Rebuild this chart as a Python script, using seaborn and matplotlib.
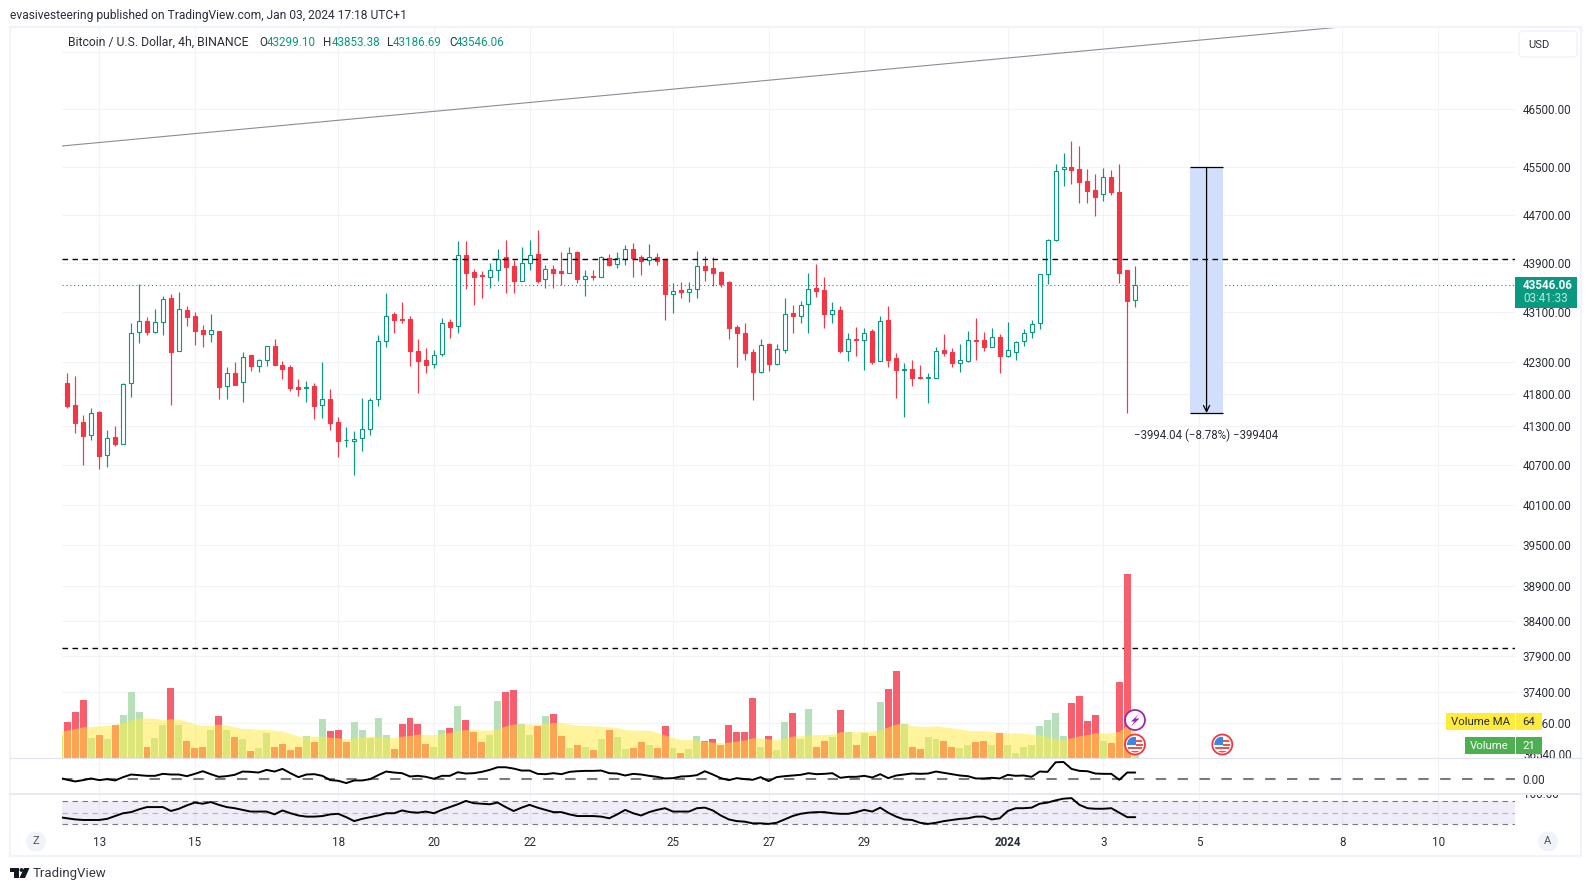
import numpy as np
import pandas as pd
import matplotlib.pyplot as plt
import seaborn as sns
from matplotlib.patches import Circle, FancyBboxPatch, Polygon, Rectangle
from matplotlib.ticker import NullLocator
from matplotlib.transforms import Bbox, TransformedBbox

opens = [41977, 41633, 41368, 41165, 41524, 40860, 41140, 41025, 41972, 42780,
         42960, 42790, 42940, 43335, 42475, 43140, 43040, 42820, 42750, 42800,
         41925, 42133, 41985, 42417, 42248, 42340, 42560, 42258, 42227, 41915,
         41890, 41930, 41628, 41727, 41368, 41085, 41080, 41115, 41265, 41717,
         42635, 43075, 42995, 42995, 42480, 42335, 42270, 42440, 42945, 42875,
         44040, 43760, 43710, 43665, 43780, 44005, 43855, 43615, 43900, 44055,
         43635, 43807, 43775, 43730, 44085, 43635, 43695, 43665, 43990, 43880,
         43970, 44135, 44005, 43945, 44005, 43970, 43390, 43465, 43435, 43470,
         43855, 43825, 43760, 43595, 42865, 42770, 42465, 42155, 42595, 42280,
         42490, 43090, 43035, 43235, 43500, 43465, 43080, 43140, 42485, 42675,
         42650, 42800, 42325, 42980, 42370, 42185, 42195, 42070, 42060, 42060,
         42500, 42465, 42295, 42325, 42660, 42660, 42550, 42710, 42405, 42470,
         42635, 42780, 42925, 43720, 44285, 45465, 45515, 45470, 45270, 45120,
         45045, 45340, 45075, 43790, 43299.10]
closes = [41623, 41357, 41145, 41503, 40840, 41120, 41025, 41956, 42765, 42955,
          42790, 42940, 43310, 42470, 43150, 43030, 42805, 42745, 42810, 41905,
          42130, 41945, 42380, 42248, 42330, 42555, 42258, 42195, 41900, 41883,
          41915, 41618, 41722, 41352, 41080, 41095, 41110, 41255, 41706, 42635,
          43035, 42975, 42975, 42480, 42320, 42258, 42410, 42925, 42865, 44030,
          43740, 43675, 43695, 43785, 43965, 43840, 43610, 43900, 44030, 43610,
          43800, 43740, 43740, 44065, 43645, 43687, 43675, 44000, 43873, 43985,
          44130, 43990, 43940, 44000, 43940, 43400, 43445, 43430, 43475, 43850,
          43790, 43740, 43563, 42850, 42770, 42450, 42150, 42570, 42275, 42510,
          43070, 43040, 43215, 43475, 43450, 43075, 43130, 42480, 42670, 42660,
          42765, 42305, 42955, 42335, 42180, 42195, 42055, 42055, 42070, 42475,
          42450, 42285, 42330, 42655, 42645, 42545, 42700, 42400, 42495, 42625,
          42765, 42905, 43720, 44285, 45435, 45500, 45455, 45255, 45105, 45005,
          45335, 45075, 43740, 43290, 43546.06]
highs = [42130, 42086, 41477, 41586, 41540, 41245, 41305, 41972, 42930, 43563,
         43020, 43155, 43365, 43400, 43430, 43205, 43105, 42900, 43075, 42800,
         42225, 42305, 42465, 42417, 42355, 42555, 42670, 42320, 42258, 42040,
         42008, 41977, 42305, 41883, 41446, 41290, 41230, 41743, 41743, 42730,
         43415, 43105, 43270, 43040, 42665, 42530, 42497, 43010, 42995, 44270,
         44270, 43807, 43775, 43905, 44135, 44285, 43955, 44170, 44285, 44450,
         43873, 43873, 44085, 44170, 44105, 43790, 43790, 44020, 44055, 44085,
         44205, 44235, 44040, 44220, 44070, 43970, 43580, 43595, 43595, 44105,
         44020, 44005, 43775, 43610, 42900, 42930, 42515, 42665, 42610, 42595,
         43335, 43220, 43285, 43740, 43890, 43677, 43270, 43205, 42770, 42865,
         42850, 42835, 43040, 43205, 42450, 42290, 42335, 42260, 42135, 42545,
         42755, 42530, 42595, 42800, 43005, 42785, 42850, 42755, 42945, 42645,
         42835, 42975, 43720, 44300, 45555, 45745, 45945, 45860, 45470, 45390,
         45490, 45455, 45555, 43790, 43853.38]
lows = [41592, 41190, 40705, 41085, 40645, 40675, 40995, 41025, 41758, 42610,
        42735, 42770, 42735, 41633, 42475, 42880, 42575, 42545, 42625, 41727,
        41727, 41945, 41680, 42165, 42150, 42243, 42258, 42040, 41852, 41775,
        41680, 41415, 41430, 41245, 40825, 40975, 40555, 40915, 41170, 41618,
        42545, 42770, 42930, 42243, 41820, 42133, 42210, 42400, 42690, 42770,
        43480, 43220, 43335, 43500, 43610, 43415, 43415, 43615, 43790, 43580,
        43500, 43500, 43545, 43730, 43580, 43365, 43630, 43665, 43855, 43825,
        43873, 43675, 43710, 43873, 43873, 42975, 43090, 43335, 43270, 43335,
        43610, 43525, 43515, 42670, 42227, 42335, 41710, 42125, 42165, 42258,
        42450, 42770, 42930, 42770, 43350, 42850, 42930, 42450, 42320, 42400,
        42180, 42275, 42325, 42220, 41745, 41445, 41930, 42040, 41665, 42060,
        42400, 42220, 42150, 42310, 42335, 42480, 42540, 42135, 42390, 42335,
        42565, 42690, 42835, 43560, 44260, 45190, 45225, 44905, 44890, 44675,
        44940, 45025, 43580, 41500, 43186.69]

# these four start one bar earlier, that bar is cut off by the pane edge
volume = [42, 65, 85, 107, 36, 43, 34, 60, 78, 120, 84, 21, 36, 60, 129, 60, 31, 18, 21, 51, 76,
          51, 38, 34, 12, 18, 45, 21, 25, 14, 21, 40, 29, 71, 49, 51, 29, 65, 52, 36, 73,
          43, 16, 62, 74, 63, 25, 20, 51, 54, 95, 69, 47, 29, 43, 104, 120, 124, 63, 43, 58,
          76, 80, 41, 18, 23, 21, 14, 34, 51, 38, 16, 18, 29, 23, 18, 58, 18, 10, 16, 40,
          32, 34, 23, 60, 47, 47, 109, 21, 41, 14, 65, 82, 34, 89, 21, 32, 38, 87, 47, 23,
          45, 40, 102, 127, 160, 63, 20, 16, 38, 34, 32, 20, 18, 23, 29, 31, 23, 45, 23, 9,
          20, 23, 58, 69, 82, 40, 100, 113, 67, 78, 32, 27, 140, 336, 5]
volume_ma = [49, 51, 54, 57, 58, 59, 59, 62, 65, 70, 73, 73, 73, 70, 72, 71, 67, 62, 60, 60, 62,
             60, 57, 54, 54, 52, 52, 51, 49, 45, 40, 40, 40, 40, 38, 37, 35, 37, 39, 40, 40,
             38, 37, 40, 41, 44, 43, 43, 45, 47, 51, 52, 52, 51, 51, 54, 59, 62, 62, 62, 62,
             63, 65, 65, 62, 60, 59, 59, 58, 57, 56, 52, 51, 51, 51, 47, 42, 37, 34, 34, 33,
             31, 29, 28, 29, 31, 33, 37, 37, 35, 34, 37, 40, 41, 43, 43, 43, 44, 48, 48, 48,
             49, 49, 52, 57, 62, 63, 59, 58, 58, 59, 57, 55, 53, 51, 50, 50, 49, 47, 46, 46,
             45, 44, 42, 39, 35, 34, 37, 41, 43, 46, 46, 46, 49, 60, 64]
macd = [30, -30, -80, -40, 10, -40, -10, -50, 50, 130, 110, 90, 90, 150, 130, 130, 80, 150, 230, 140, 60,
        80, 120, 220, 210, 190, 270, 220, 300, 170, 50, 130, 140, 90, -40, -60, -130, -50, -50, -10, 110,
        220, 190, 170, 70, 90, 60, 0, 90, 90, 200, 160, 170, 210, 270, 350, 350, 310, 250, 250, 150,
        140, 170, 140, 210, 230, 240, 240, 250, 170, 160, 100, 150, 130, 90, 60, 10, 20, 70, 80, 110,
        230, 130, 20, -40, 20, -10, -30, 50, -70, 50, 80, 100, 120, 170, 140, 150, 170, 30, 60, 60,
        90, 40, 140, 20, 100, 130, 160, 150, 160, 220, 180, 140, 100, 80, 10, 10, 30, 10, 120, 90,
        100, 60, 220, 210, 500, 510, 300, 240, 230, 160, 150, 150, -30, 190, 190]
rsi = [42, 40, 38, 37, 37, 37, 39, 44, 49, 51, 56, 60, 60, 60, 53, 57, 63, 68, 66, 69, 64,
       60, 58, 55, 52, 52, 52, 47, 54, 49, 45, 43, 43, 44, 47, 48, 42, 35, 39, 42, 45,
       49, 49, 54, 51, 50, 52, 49, 55, 60, 65, 71, 67, 66, 65, 68, 60, 53, 59, 64, 59,
       55, 51, 51, 47, 44, 44, 44, 43, 40, 47, 55, 49, 45, 51, 55, 58, 52, 52, 52, 58,
       59, 54, 45, 38, 35, 34, 31, 31, 30, 32, 38, 44, 48, 50, 51, 51, 49, 48, 48, 51,
       55, 52, 59, 50, 43, 38, 37, 32, 30, 32, 35, 37, 39, 40, 43, 43, 38, 40, 53, 58,
       58, 59, 66, 68, 72, 75, 76, 64, 58, 57, 57, 58, 50, 42, 42]

level_high = 43965
level_low = 38017
last_price = 43546.06
trend_bars = [-0.66, 159.8]
trend_prices = [45866, 47953]
measure_bars = [140.9, 145]
measure_top = 45500
measure_bottom = 41506

price_ticks = [47500, 46500, 45500, 44700, 43900, 43100, 42300, 41800, 41300, 40700,
               40100, 39500, 38900, 38400, 37900, 37400, 36960]
date_ticks = [4, 16, 34, 46, 58, 76, 88, 100, 118, 130, 142, 160, 172]
date_labels = ['13', '15', '18', '20', '22', '25', '27', '29', '2024', '3', '5', '8', '10']

W, H = 1591, 891
GREEN = '#089981'
RED = '#f23645'
GRID = '#f2f3f6'
TEXT = '#2a2e39'
FONT = 'Roboto'
SIZE = 8.4

sns.set_style('white')
plt.rcParams['font.family'] = [FONT, 'DejaVu Sans']
plt.rcParams['font.size'] = SIZE

fig = plt.figure(figsize=(W / 100, H / 100), dpi=100, facecolor='white')


def pane(top, bottom):
    left, right = 62, 1515
    ax = fig.add_axes([left / W, 1 - bottom / H, (right - left) / W, (bottom - top) / H])
    ax.set_xlim(-0.665, 181.65)
    ax.set_xticks(date_ticks)
    ax.grid(axis='x', color=GRID, lw=0.8)
    ax.set_axisbelow(True)
    ax.tick_params(length=0, labelbottom=False, labelleft=False, labelright=True,
                   labelcolor=TEXT, pad=5.5, labelsize=SIZE)
    ax.yaxis.tick_right()
    sns.despine(ax=ax, left=True, bottom=True, right=True, top=True)
    return ax


# main pane
ax = pane(27, 758)
ax.set_yscale('log')
ax.set_ylim(36482, 47953)
ax.yaxis.set_minor_locator(NullLocator())
ax.set_yticks(price_ticks)
ax.set_yticklabels(['' if p == 47500 else '%.2f' % p for p in price_ticks])
ax.grid(axis='y', color=GRID, lw=0.8)

bars = np.arange(len(opens))
o, c = np.array(opens), np.array(closes)
up = c >= o
sides = [GREEN if u else RED for u in up]
ax.vlines(bars, lows, highs, colors=sides, lw=0.85, zorder=3)
ax.bar(bars, np.abs(c - o), bottom=np.minimum(o, c), width=0.5, color=['white' if u else RED for u in up],
       edgecolor=sides, lw=0.8, zorder=4)

ax.axhline(level_high, color='black', lw=1, dashes=(4, 3.2), zorder=5)
ax.axhline(level_low, color='black', lw=1, dashes=(4, 3.2), zorder=5)
ax.axhline(last_price, color=GREEN, lw=0.8, dashes=(1, 2.5), zorder=2)
ax.plot(trend_bars, trend_prices, color='#8a8d96', lw=0.8, zorder=2)

# measure tool
ax.fill_between(measure_bars, measure_bottom, measure_top, color='#d1dffd', lw=0, zorder=2)
ax.hlines([measure_top, measure_bottom], measure_bars[0], measure_bars[1], color='black', lw=0.9, zorder=5)
mid = sum(measure_bars) / 2
ax.annotate('', xy=(mid, measure_bottom), xytext=(mid, measure_top), zorder=5,
            arrowprops=dict(arrowstyle='->', color='black', lw=0.9, shrinkA=0, shrinkB=0, mutation_scale=11))

# volume on its own scale, same pane
ax_vol = fig.add_axes(ax.get_position(), sharex=ax)
ax_vol.patch.set_visible(False)
vol_up = np.r_[True, up]
vol_up[36] = False
vol_df = pd.DataFrame({'bar': np.arange(-1, len(opens)), 'volume': volume,
                       'side': ['up' if u else 'down' for u in vol_up]})
sns.barplot(data=vol_df, x='bar', y='volume', hue='side', hue_order=['up', 'down'],
            palette={'up': '#b7dfb9', 'down': '#f85f6e'}, native_scale=True, dodge=False,
            width=0.875, saturation=1, linewidth=0, legend=False, ax=ax_vol)
ax_vol.fill_between(vol_df['bar'], 0, volume_ma, color='#ffeb3b', alpha=0.5, lw=0, zorder=3)
ax_vol.set_ylim(0, 1338)
ax_vol.set_xlim(-0.665, 181.65)
ax_vol.axis('off')

# macd pane
ax_macd = pane(758, 793)
ax_macd.set_ylim(-430, 630)
ax_macd.set_yticks([0])
ax_macd.set_yticklabels(['0.00'])
ax_macd.axhline(0, color='#787b86', lw=1.5, dashes=(5, 5.5))
sns.lineplot(x=vol_df['bar'], y=macd, color='black', lw=1.4, ax=ax_macd, zorder=3)
ax_macd.set_xlim(-0.665, 181.65)
ax_macd.set(xlabel='', ylabel='')

# rsi pane
ax_rsi = pane(793, 828)
ax_rsi.set_ylim(22.7, 85.1)
ax_rsi.set_yticks([])
ax_rsi.axhspan(30, 70, color='#7e57c2', alpha=0.1, lw=0)
ax_rsi.axhline(70, color='#787b86', lw=0.8, dashes=(5, 4))
ax_rsi.axhline(50, color='#787b86', lw=0.8, dashes=(5, 4), alpha=0.5)
ax_rsi.axhline(30, color='#787b86', lw=0.8, dashes=(5, 4))
sns.lineplot(x=vol_df['bar'], y=rsi, color='black', lw=1.4, ax=ax_rsi, zorder=3)
ax_rsi.set_xlim(-0.665, 181.65)
ax_rsi.set(xlabel='', ylabel='')
ax_rsi.tick_params(axis='x', labelbottom=True, pad=6)
ax_rsi.set_xticklabels(date_labels)
for lab in ax_rsi.get_xticklabels():
    if lab.get_text() == '2024':
        lab.set_fontweight('bold')

# everything around the panes, in pixels
ov = fig.add_axes([0, 0, 1, 1], zorder=10)
ov.set_xlim(0, W)
ov.set_ylim(H, 0)
ov.axis('off')
ov.patch.set_visible(False)

ov.add_patch(Rectangle((10, 26.5), 1571, 829.5, fill=False, edgecolor='#f0f3fa', lw=1.6))
ov.plot([10, 1581], [758, 758], color='#e0e3eb', lw=0.8)
ov.plot([10, 1581], [793.5, 793.5], color='#e8eaf0', lw=1.4)


def label(x, y, s, color=TEXT, ha='left', size=SIZE, **kw):
    return ov.text(x, y, s, color=color, ha=ha, va='center', fontsize=size, **kw)


label(10, 15.5, 'evasivesteering published on TradingView.com, Jan 03, 2024 17:18 UTC+1', size=8.65)
label(68, 42, 'Bitcoin / U.S. Dollar, 4h, BINANCE', size=8.85)
for x, x_val, head, val in [(259, 267, 'O', '43299.10'), (323, 331.5, 'H', '43853.38'),
                            (387, 392.5, 'L', '43186.69'), (449, 456, 'C', '43546.06')]:
    label(x, 42, head, size=8.4)
    label(x_val, 42, val, color=GREEN, size=8.4)

# axis labels cut by the pane borders
for y, s, y0, y1 in [(755.5, '36540.00', 740, 757.5), (795, '100.00', 794.5, 810)]:
    t = label(1523, y, s)
    t.set_clip_box(TransformedBbox(Bbox([[1515, y0], [1581, y1]]), ov.transData))
    t.set_clip_on(True)

# USD button
ov.add_patch(FancyBboxPatch((1522, 34), 52, 20, boxstyle='round,pad=3,rounding_size=4', fc='white',
                            ec='#f0f3fa', lw=1.2))
label(1528, 44.5, 'USD', size=8)

# last price tag
ov.add_patch(Rectangle((1515, 277), 62, 30.5, color=GREEN, lw=0, zorder=4))
label(1523, 285.5, '43546.06', color='white', fontweight='bold', zorder=5)
label(1523, 299, '03:41:33', color='#c3e6de', zorder=5)

# study pills
ov.add_patch(Rectangle((1446, 713), 68.5, 17, color='#ffeb3b', lw=0, zorder=4))
ov.add_patch(Rectangle((1515.5, 713), 26, 17, color='#ffeb3b', lw=0, zorder=4))
label(1451, 722, 'Volume MA', color=TEXT, size=8.2, zorder=5)
label(1528.5, 722, '64', color=TEXT, ha='center', size=8.2, zorder=5)
ov.add_patch(Rectangle((1465, 737), 49.5, 17, color='#4caf50', lw=0, zorder=4))
ov.add_patch(Rectangle((1515.5, 737), 26, 17, color='#4caf50', lw=0, zorder=4))
label(1470, 746, 'Volume', color='white', size=8.2, zorder=5)
label(1528.5, 746, '21', color='white', ha='center', size=8.2, zorder=5)

# event icons
ov.add_patch(Circle((1135, 720), 10, fc='white', ec='#9c27b0', lw=1.3, zorder=6))
ov.add_patch(Polygon([(1139, 714), (1131, 721.5), (1134.5, 721.5), (1131, 726.5), (1139.5, 718.5), (1135.5, 718.5)],
                     color='#9c27b0', lw=0, zorder=7))


def flag(cx, cy):
    ov.add_patch(Circle((cx, cy), 10, fc='white', ec=RED, lw=1.3, zorder=6))
    inner = Circle((cx, cy), 8, fc='white', lw=0, zorder=6)
    ov.add_patch(inner)
    parts = [Rectangle((cx - 8, cy - 8), 9, 8.5, color='#3d86e6', lw=0, zorder=7),
             Rectangle((cx + 1, cy - 4.5), 8, 2, color='#ef5350', lw=0, zorder=7),
             Rectangle((cx + 1, cy - 1), 8, 2, color='#ef5350', lw=0, zorder=7),
             Rectangle((cx - 9, cy + 2.5), 18, 2, color='#ef5350', lw=0, zorder=7),
             Rectangle((cx - 9, cy + 6), 18, 2, color='#ef5350', lw=0, zorder=7)]
    for p in parts:
        ov.add_patch(p)
        p.set_clip_path(inner)


flag(1135, 744.5)
flag(1222.3, 744.5)

# measure label
label(1206, 435.5, '\u22123994.04 (\u22128.78%) \u2212399404', ha='center', size=8.3)

# scale buttons
ov.add_patch(Circle((36, 841.5), 10, fc='#f0f3fa', lw=0))
label(36, 841.5, 'Z', ha='center', color='#50535e', size=8)
ov.add_patch(Circle((1548, 841.5), 10, fc='#f0f3fa', lw=0))
label(1548, 841.5, 'A', ha='center', color='#50535e', size=8)

# footer logo
ov.add_patch(Rectangle((10, 868), 9, 3.5, color='#131722', lw=0))
ov.add_patch(Rectangle((14, 868), 4.5, 10, color='#131722', lw=0))
ov.add_patch(Circle((21.5, 870), 1.9, color='#131722', lw=0))
ov.add_patch(Polygon([(24, 868), (29.5, 868), (25, 878), (19.5, 878)], color='#131722', lw=0))
label(33, 873, 'TradingView', size=9.5, color='#333640')

fig.savefig('out.png', dpi=100)
